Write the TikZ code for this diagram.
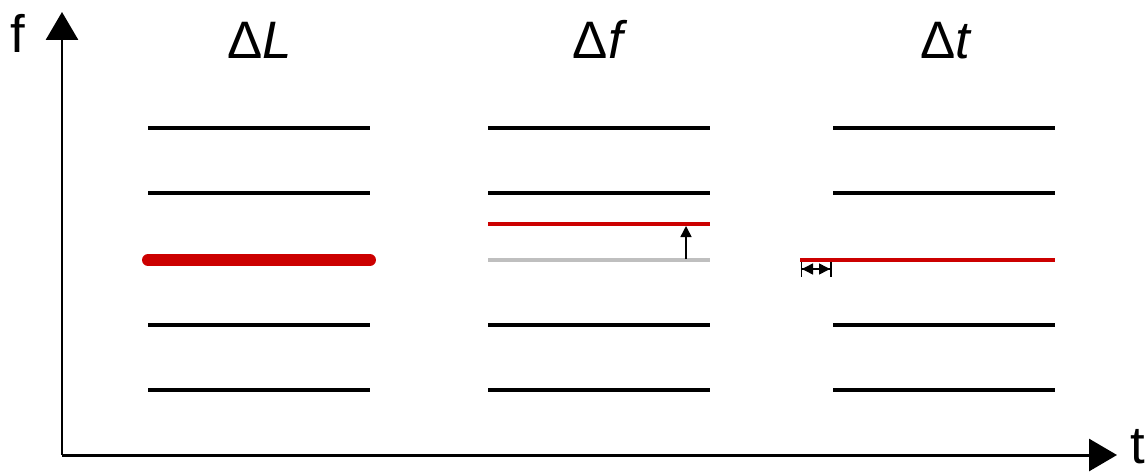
\documentclass[tikz,border=0pt]{standalone}
\usepackage{fontspec}
\setmainfont{Liberation Sans}
\usetikzlibrary{arrows.meta}
\definecolor{shiftred}{HTML}{CC0000}
\definecolor{refgray}{HTML}{BFBFBF}

\begin{document}
\begin{tikzpicture}[x=0.02cm, y=-0.02cm, every node/.style={font=\fontsize{30}{36}\selectfont, inner sep=0pt, anchor=base}, axis/.style={line width=1.7pt, -{Triangle[length=5.6mm, width=6.4mm]}}, level/.style={line width=2.3pt}, marker/.style={line width=0.85pt}]
\useasboundingbox (0,0) rectangle (1148,473);
% axes
\coordinate (o) at (62,455);
\coordinate (ftip) at (62,12);
\coordinate (ttip) at (1117,455);
\draw[axis] (o) -- (ftip);
\draw[axis] (o) -- (ttip);
\node (flabel) at (18,52) {f};
\node (tlabel) at (1138,463) {t};
% column titles
\node (dL) at (260,59) {Δ\textit{L}};
\node (df) at (600,59) {Δ\textit{f}};
\node (dt) at (946,59) {Δ\textit{t}};
% unchanged levels
\foreach \x in {148,488,833}
  \foreach \y in {128,193,325,390}
    \draw[level] (\x,\y) coordinate (a) -- (\x+222,\y) coordinate (b);
% level width
\draw[shiftred, line width=6.8pt, line cap=round] (148,260) coordinate (l1) -- (370,260) coordinate (l2);
% level frequency
\draw[refgray, level] (488,260) coordinate (g1) -- (710,260) coordinate (g2);
\draw[shiftred, level] (488,224) coordinate (r1) -- (710,224) coordinate (r2);
\coordinate (fa) at (686,259);
\coordinate (fb) at (686,226);
\draw[marker, -{Triangle[length=2.2mm, width=2.2mm]}] (fa) -- (fb);
% level timing
\draw[shiftred, level] (800,260) coordinate (s1) -- (1055,260) coordinate (s2);
\coordinate (ta) at (800.5,269);
\coordinate (tb) at (831.5,269);
\draw[marker, {Bar[width=3mm]Triangle[length=2.2mm, width=2.2mm]}-{Triangle[length=2.2mm, width=2.2mm]Bar[width=3mm]}] (ta) -- (tb);
\end{tikzpicture}
\end{document}
